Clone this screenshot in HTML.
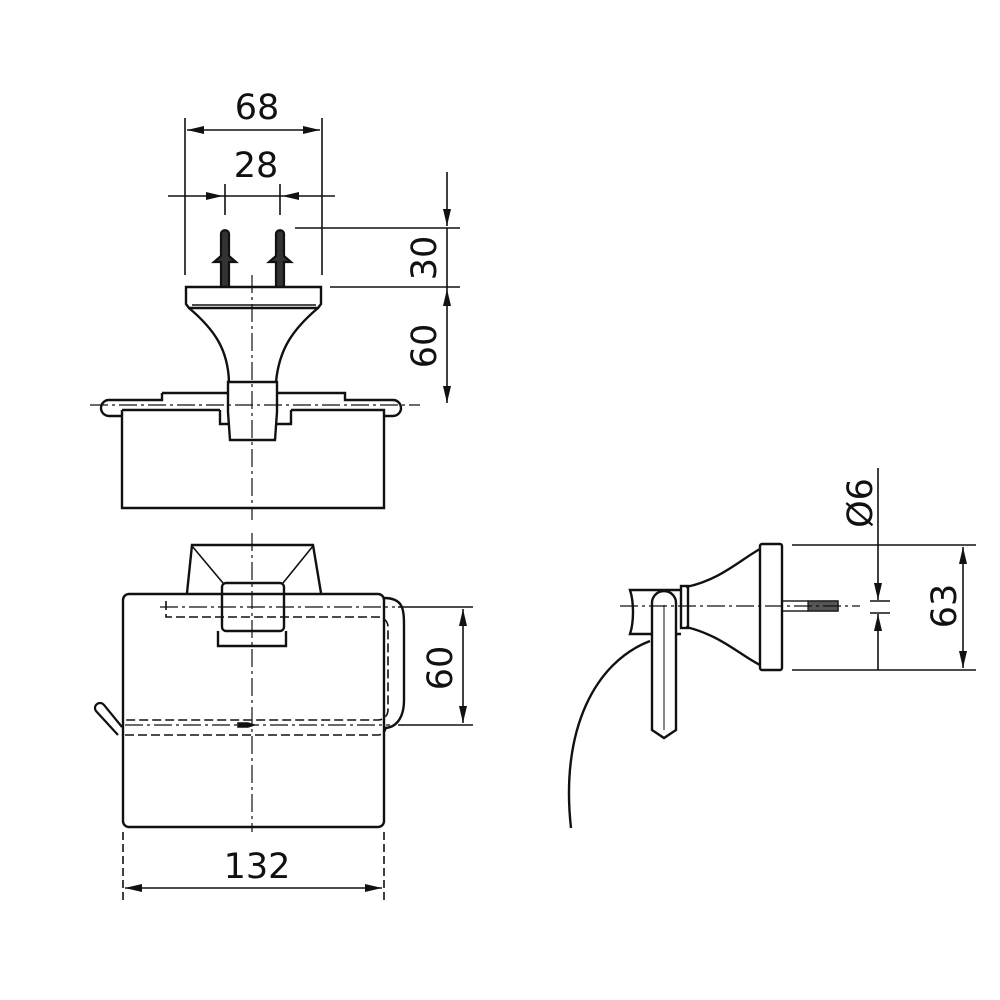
<!DOCTYPE html>
<html><head><style>html,body{margin:0;padding:0;background:#fff}svg{display:block}text{font-family:"DejaVu Sans","Liberation Sans",sans-serif;fill:#111}</style></head>
<body>
<svg width="1000" height="1000" viewBox="0 0 1000 1000" xmlns="http://www.w3.org/2000/svg">
<defs>
<marker id="a" viewBox="0 0 10 10" refX="10" refY="5" markerWidth="17" markerHeight="8" markerUnits="userSpaceOnUse" orient="auto-start-reverse" preserveAspectRatio="none"><path d="M0,0L10,5L0,10z" fill="#111"/></marker>
</defs>
<g fill="none" stroke="#111" stroke-width="1.6">
<!-- TOP VIEW -->
<line x1="185" y1="118" x2="185" y2="275"/><line x1="322" y1="118" x2="322" y2="275"/>
<line x1="187" y1="130" x2="320" y2="130" marker-start="url(#a)" marker-end="url(#a)"/>
<line x1="168" y1="196" x2="223" y2="196" marker-end="url(#a)"/>
<line x1="335" y1="196" x2="282" y2="196" marker-end="url(#a)"/>
<line x1="223" y1="196" x2="282" y2="196"/>
<line x1="225" y1="184" x2="225" y2="215"/><line x1="280" y1="184" x2="280" y2="215"/>
<line x1="295" y1="228" x2="460" y2="228"/><line x1="330" y1="287" x2="460" y2="287"/>
<line x1="447" y1="172" x2="447" y2="226" marker-end="url(#a)"/>
<line x1="447" y1="289" x2="447" y2="403" marker-start="url(#a)" marker-end="url(#a)"/>
<line x1="447" y1="228" x2="447" y2="289"/>
<!-- anchors -->
<g stroke-width="2.2">
<path d="M221,287V262h-7l7-6v-22c0-5 8-5 8,0v22l7,6h-7v25" fill="#333"/>
<path d="M276,287V262h-7l7-6v-22c0-5 8-5 8,0v22l7,6h-7v25" fill="#333"/>
</g>
<path d="M186,287H321V304l-3,4H189l-3-4z" stroke-width="2.4"/>
<line x1="192" y1="305" x2="316" y2="305"/>
<path d="M189,308C215,330 228,350 229,382M318,308C292,330 279,350 276,382" stroke-width="2.4"/>
<path d="M228,382H277V412l-2,28H230l-2-28z" stroke-width="2.4"/>
<path d="M162,393H228M277,393H345V400H393a8,8 0 0 1 0,16H384M162,393V400H109a8,8 0 0 0 0,16H122" stroke-width="2.4"/>
<path d="M122,410V508H384V410H291M122,410H220M220,410v14h8M291,410v14h-14" stroke-width="2.4"/>
<line x1="90" y1="405" x2="420" y2="405" stroke-dasharray="18,4,3,4" stroke-width="1.2"/>
<line x1="252" y1="275" x2="252" y2="520" stroke-dasharray="18,4,3,4" stroke-width="1.2"/>
<!-- FRONT VIEW -->
<path d="M187,593L192,545H313L321,593" stroke-width="2.4"/>
<path d="M192,546L223,583M313,546L283,583"/>
<rect x="123" y="594" width="261" height="233" rx="6" stroke-width="2.4"/>
<rect x="222" y="583" width="62" height="48" rx="4" stroke-width="2.4"/>
<path d="M218,631V646H286V631" stroke-width="2.4"/>
<path d="M166,601V617H378a10,10 0 0 1 10,10V710a10,10 0 0 1-10,10H125" stroke-dasharray="9,4"/>
<path d="M384,598c20,0 20,12 20,30V700c0,18-8,28-20,28" stroke-width="2.4"/>
<path d="M125,735H378a8,8 0 0 0 8-8" stroke-dasharray="9,4"/>
<path d="M122,727L104,705a5,5 0 0 0-8,6L118,735" stroke-width="2.2"/>
<line x1="160" y1="607" x2="395" y2="607" stroke-dasharray="18,4,3,4" stroke-width="1.2"/>
<line x1="125" y1="725" x2="390" y2="725" stroke-dasharray="18,4,3,4" stroke-width="1.2"/>
<path d="M238,723h10l6,2-6,2h-10z" fill="#111"/>
<line x1="252" y1="533" x2="252" y2="832" stroke-dasharray="18,4,3,4" stroke-width="1.2"/>
<line x1="398" y1="607" x2="473" y2="607"/><line x1="398" y1="725" x2="473" y2="725"/>
<line x1="463" y1="609" x2="463" y2="723" marker-start="url(#a)" marker-end="url(#a)"/>
<line x1="123" y1="832" x2="123" y2="900" stroke-dasharray="8,4"/><line x1="384" y1="832" x2="384" y2="900" stroke-dasharray="8,4"/>
<line x1="125" y1="888" x2="382" y2="888" marker-start="url(#a)" marker-end="url(#a)"/>
<!-- SIDE VIEW -->
<rect x="760" y="544" width="22" height="126" rx="2" stroke-width="2.4"/>
<path d="M760,549C740,560 720,580 686,587M760,665C740,655 720,635 686,627" stroke-width="2.4"/>
<rect x="681" y="586" width="7" height="42" stroke-width="2.4"/>
<path d="M681,590H630c4,12 4,32 0,44H681" stroke-width="2.4"/>
<path d="M652,603a12,12 0 0 1 24,0V730l-12,8l-12-8z" fill="#fff" stroke-width="2.4"/>
<line x1="664" y1="605" x2="664" y2="730" stroke-width="1"/>
<path d="M650,641C595,662 560,730 571,828" stroke-width="2.4"/>
<rect x="782" y="601" width="56" height="10" stroke-width="1.4"/>
<rect x="808" y="601" width="30" height="10" fill="#555" stroke-width="1.2"/>
<line x1="620" y1="606" x2="860" y2="606" stroke-dasharray="18,4,3,4" stroke-width="1.2"/>
<line x1="792" y1="545" x2="976" y2="545"/><line x1="792" y1="670" x2="976" y2="670"/>
<line x1="870" y1="601" x2="890" y2="601"/><line x1="870" y1="613" x2="890" y2="613"/>
<line x1="878" y1="468" x2="878" y2="600" marker-end="url(#a)"/>
<line x1="878" y1="670" x2="878" y2="614" marker-end="url(#a)"/>
<line x1="963" y1="547" x2="963" y2="668" marker-start="url(#a)" marker-end="url(#a)"/>
</g>
<g font-size="35" text-anchor="middle">
<text x="257" y="119">68</text>
<text x="256" y="177">28</text>
<text x="257" y="878">132</text>
<text transform="translate(436,258) rotate(-90)">30</text>
<text transform="translate(436,346) rotate(-90)">60</text>
<text transform="translate(452,668) rotate(-90)">60</text>
<text transform="translate(872,503) rotate(-90)">Ø6</text>
<text transform="translate(956,606) rotate(-90)">63</text>
</g>
</svg>
</body></html>
